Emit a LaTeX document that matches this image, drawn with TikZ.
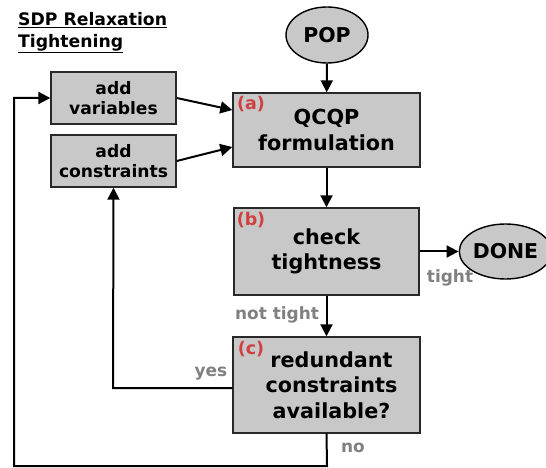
\documentclass[tikz,border=0pt]{standalone}
\usepackage{fontspec}
\setmainfont{DejaVu Sans}
\usetikzlibrary{arrows.meta,shapes.geometric}
\definecolor{boxfill}{RGB}{200,200,200}
\definecolor{boxline}{RGB}{40,40,40}
\definecolor{lblred}{RGB}{208,64,64}
\definecolor{lblgray}{RGB}{128,128,128}
\begin{document}
\begin{tikzpicture}[x=1bp,y=-1bp,
  bigbox/.style={draw=boxline,line width=1.4bp,fill=boxfill,rectangle,inner sep=0pt,align=center,
    font=\fontsize{20.8}{25.5}\selectfont\bfseries},
  smallbox/.style={draw=boxline,line width=1.4bp,fill=boxfill,rectangle,inner sep=0pt,align=center,
    minimum width=125bp,minimum height=52bp,font=\fontsize{17.2}{20}\selectfont\bfseries},
  term/.style={draw=black,line width=1.4bp,fill=boxfill,ellipse,inner sep=0pt,
    minimum width=82bp,minimum height=56bp,font=\fontsize{20.5}{24}\selectfont\bfseries},
  tag/.style={text=lblred,font=\fontsize{17.5}{20}\selectfont\bfseries,inner sep=0pt},
  cond/.style={text=lblgray,font=\fontsize{17}{20}\selectfont\bfseries,inner sep=0pt},
  conn/.style={line width=2bp,-{Triangle[length=12bp,width=12bp]}}]
\useasboundingbox (0,0) rectangle (546,468);

% title
\node[anchor=north west,inner sep=0pt,align=left,font=\fontsize{17.3}{22}\selectfont\bfseries] (title) at (18,12)
  {\underline{SDP Relaxation}\\\underline{Tightening}};

% nodes
\node[term] (pop) at (327,35) {POP};
\node[bigbox,minimum width=187bp,minimum height=74bp] (qcqp) at (326.5,130) {QCQP\\formulation};
\node[bigbox,minimum width=185bp,minimum height=87bp] (check) at (326.5,251.5) {check\\tightness};
\node[bigbox,minimum width=187bp,minimum height=96bp] (red) at (326.5,385) {\hspace*{10bp}redundant\\\hspace*{10bp}constraints\\\hspace*{10bp}available?};
\node[term,minimum width=80bp,minimum height=55bp] (done) at (505.5,251.5) {DONE};
\node[smallbox] (addv) at (113.5,98) {add\\variables};
\node[smallbox] (addc) at (113.5,161) {add\\constraints};

% tags
\node[tag] (ta) at (251,104) {(a)};
\node[tag] (tb) at (251,220) {(b)};
\node[tag] (tc) at (251,349) {(c)};

% coordinates for routed connectors
\coordinate (yesc) at (113,388);
\coordinate (no1) at (327,466);
\coordinate (no2) at (14,466);
\coordinate (no3) at (14,98);

% connectors
\draw[conn] (pop) -- (qcqp);
\draw[conn] (qcqp) -- (check);
\draw[conn] (check) -- (red);
\draw[conn] (check) -- (done);
\draw[conn] (addv.east) -- (qcqp.west |- 0,110);
\draw[conn] (addc.east) -- (qcqp.west |- 0,147);
\draw[conn] (red.west |- yesc) -- (yesc) -- (addc.south);
\draw[conn] (red.south) -- (no1) -- (no2) -- (no3) -- (addv.west);

% condition labels
\node[cond] (ltight) at (450,278) {tight};
\node[cond] (lnot) at (277,315) {not tight};
\node[cond] (lyes) at (211,374) {yes};
\node[cond] (lno) at (353,448) {no};
\end{tikzpicture}
\end{document}
